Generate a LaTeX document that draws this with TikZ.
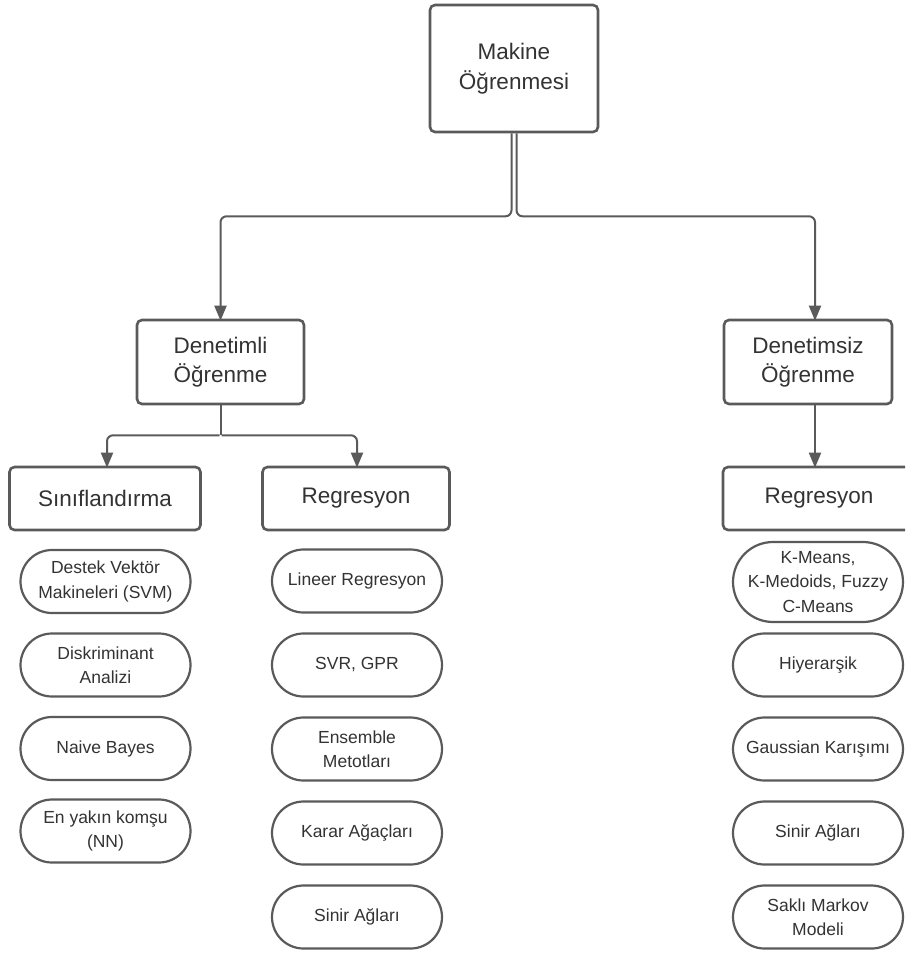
\documentclass[tikz,border=0pt]{standalone}
\usepackage{fontspec}
\setmainfont{Liberation Sans}
\usetikzlibrary{arrows.meta,shapes.misc}
\definecolor{edge}{HTML}{5A5A5A}
\definecolor{ink}{HTML}{333333}
\begin{document}
\begin{tikzpicture}[x=1pt,y=-1pt,
  box/.style={draw=edge,line width=2.6pt,rounded corners=5pt,fill=white,
    text=ink,align=center,inner sep=0pt,font=\fontsize{22.5}{29.5}\selectfont},
  pill/.style={rounded rectangle,draw=edge,line width=2.2pt,fill=white,
    text=ink,align=center,inner sep=0pt,minimum width=170pt,minimum height=63pt,
    font=\fontsize{17.5}{24.5}\selectfont},
  conn/.style={draw=edge,line width=2pt,rounded corners=6pt,
    -{Triangle[width=12pt,length=15pt]}},
  link/.style={draw=edge,line width=2pt,rounded corners=6pt}]
\useasboundingbox (0,0) rectangle (905,953);
\clip (0,0) rectangle (905,953);

% top level
\node[box,minimum width=168pt,minimum height=127pt] (ml) at (514,68.5) {Makine\\Öğrenmesi};

% second level
\node[box,minimum width=167pt,minimum height=84pt] (sup) at (220.5,362) {Denetimli\\Öğrenme};
\node[box,minimum width=168pt,minimum height=84pt] (uns) at (808,362) {Denetimsiz\\Öğrenme};

% third level
\node[box,minimum width=191pt,minimum height=63pt] (cls) at (105,498.5) {Sınıflandırma};
\node[box,minimum width=187pt,minimum height=63pt] (reg) at (356,498.5) {Regresyon};
\node[box,minimum width=192pt,minimum height=63pt] (clu) at (819,498.5) {Regresyon};

% classification methods
\node[pill] (c1) at (105.5,581.5) {Destek Vektör\\Makineleri (SVM)};
\node[pill] (c2) at (105.5,665) {Diskriminant\\Analizi};
\node[pill] (c3) at (105.5,748.5) {Naive Bayes};
\node[pill] (c4) at (105.5,831) {En yakın komşu\\(NN)};

% regression methods
\node[pill] (r1) at (357,581) {Lineer Regresyon};
\node[pill] (r2) at (357,665) {SVR, GPR};
\node[pill] (r3) at (357,749) {Ensemble\\Metotları};
\node[pill] (r4) at (357,833) {Karar Ağaçları};
\node[pill] (r5) at (357,917) {Sinir Ağları};

% unsupervised methods
\node[pill,minimum height=80pt] (u1) at (818,582) {K-Means,\\K-Medoids, Fuzzy\\C-Means};
\node[pill] (u2) at (818,665) {Hiyerarşik};
\node[pill] (u3) at (818,749) {Gaussian Karışımı};
\node[pill] (u4) at (818,833) {Sinir Ağları};
\node[pill] (u5) at (818,917) {Saklı Markov\\Modeli};

% connectors
\draw[conn] ([xshift=-2.5pt]ml.south) -- ++(0,83) -| ([yshift=-2pt]sup.north);
\draw[conn] ([xshift=2.5pt]ml.south) -- ++(0,83) -| ([xshift=7pt,yshift=-2pt]uns.north);
\draw[link] (sup.south) -- ++(0,30) coordinate (split);
\draw[conn] ([xshift=-1pt]split) -| ([xshift=2pt,yshift=-2pt]cls.north);
\draw[conn] ([xshift=1pt]split) -| ([xshift=1pt,yshift=-2pt]reg.north);
\draw[conn] ([xshift=7pt]uns.south) -- ([xshift=-4pt,yshift=-2pt]clu.north);
\end{tikzpicture}
\end{document}
